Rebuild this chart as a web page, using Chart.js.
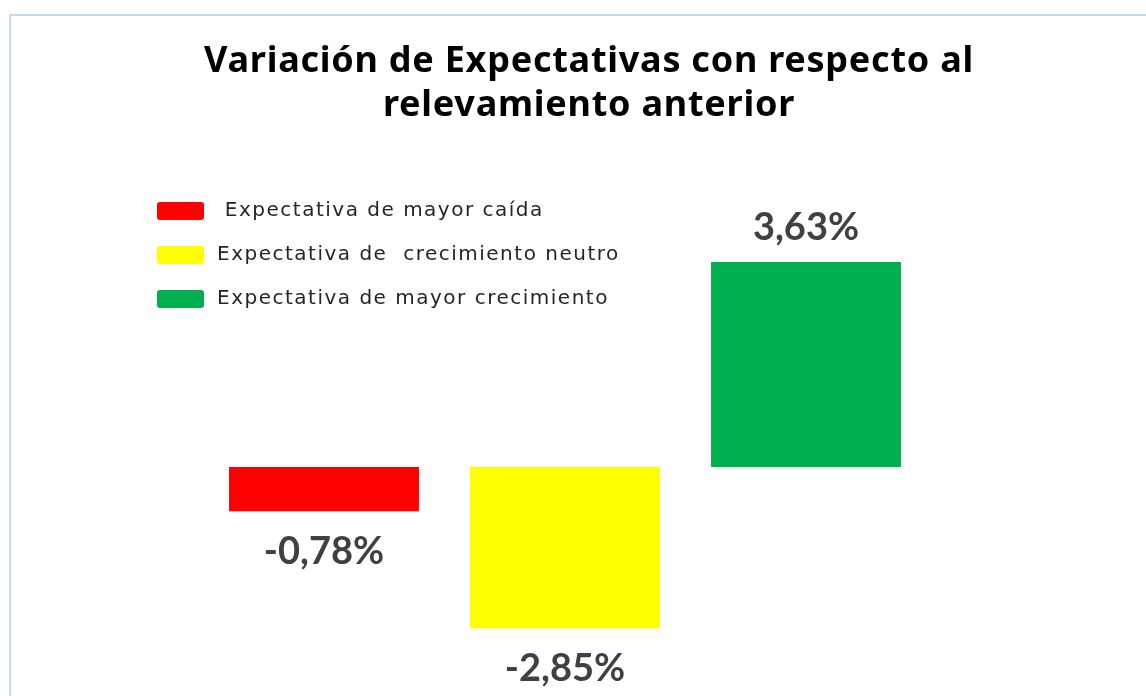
<!DOCTYPE html>
<html>
<head>
<meta charset="utf-8">
<script src="https://cdn.jsdelivr.net/npm/chart.js@4/dist/chart.umd.min.js"></script>
<style>
  body { margin: 0; background: #fff; overflow: hidden; }
  #wrap { position: relative; width: 1146px; height: 696px; }
  #frame { position: absolute; left: 9px; top: 14px; width: 1200px; height: 800px; border: 2px solid #c6dbf0; }
  #chartBox { position: absolute; left: 0; top: 0; width: 1146px; height: 696px; }
</style>
</head>
<body>
<div id="wrap">
  <div id="frame"></div>
  <div id="chartBox"><canvas id="expChart"></canvas></div>
</div>
<script>
// Data
const categories = [' Expectativa de mayor caída', 'Expectativa de  crecimiento neutro', 'Expectativa de mayor crecimiento'];
const values = [-0.78, -2.85, 3.63];
const barColors = ['#ff0000', '#ffff00', '#00b050'];
const titleLines = ['Variación de Expectativas con respecto al', 'relevamiento anterior'];

const fmt = v => v.toFixed(2).replace('.', ',') + '%';

// title, centred on the frame rather than on the plot area
const titleBlock = {
  id: 'titleBlock',
  afterDraw(chart) {
    const ctx = chart.ctx;
    ctx.save();
    ctx.font = 'bold 36px "Noto Sans"';
    ctx.letterSpacing = '0.75px';
    ctx.fillStyle = '#000';
    ctx.textAlign = 'center';
    ctx.textBaseline = 'alphabetic';
    titleLines.forEach((line, i) => ctx.fillText(line, 589, 72 + i * 44));
    ctx.restore();
  }
};

// value labels above / below each bar
const valueLabels = {
  id: 'valueLabels',
  afterDatasetsDraw(chart) {
    const ctx = chart.ctx;
    const meta = chart.getDatasetMeta(0);
    ctx.save();
    ctx.font = 'bold 38px Lato';
    ctx.fillStyle = '#404040';
    ctx.textAlign = 'center';
    ctx.textBaseline = 'middle';
    meta.data.forEach((bar, i) => {
      const v = values[i];
      const y = v >= 0 ? bar.y - 34 : bar.y + 41;
      ctx.fillText(fmt(v), bar.x, y);
    });
    ctx.restore();
  }
};

// legend drawn at the top left, like the original
const sideLegend = {
  id: 'sideLegend',
  afterDraw(chart) {
    const ctx = chart.ctx;
    ctx.save();
    ctx.font = '20px "DejaVu Sans"';
    ctx.letterSpacing = '1.5px';
    ctx.textBaseline = 'middle';
    categories.forEach((name, i) => {
      const y = 211 + i * 44;
      ctx.fillStyle = barColors[i];
      ctx.beginPath();
      ctx.roundRect(157, y - 9, 47, 18, 3);
      ctx.fill();
      ctx.fillStyle = '#262626';
      ctx.fillText(name, 217, y);
    });
    ctx.restore();
  }
};

const chart = new Chart(document.getElementById('expChart'), {
  type: 'bar',
  data: {
    labels: categories,
    datasets: [{
      data: values,
      backgroundColor: barColors,
      borderWidth: 0,
      barPercentage: 0.788,
      categoryPercentage: 1
    }]
  },
  options: {
    responsive: true,
    maintainAspectRatio: false,
    animation: false,
    layout: { padding: { left: 203.5, right: 219.5, top: 124, bottom: 0 } },
    scales: {
      x: { display: false },
      y: { display: false, min: -4.05, max: 6.07 }
    },
    plugins: {
      legend: { display: false },
      tooltip: { enabled: false },
      title: { display: false }
    }
  },
  plugins: [titleBlock, valueLabels, sideLegend]
});
</script>
</body>
</html>
